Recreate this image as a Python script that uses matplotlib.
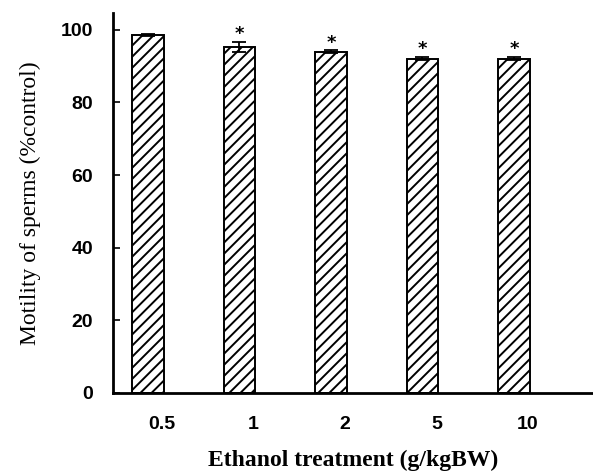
import numpy as np
import matplotlib.pyplot as plt
from matplotlib.transforms import ScaledTranslation

doses = ['0.5', '1', '2', '5', '10']
motility = [98.6, 95.3, 94.0, 92.1, 92.1]
errors = [0.3, 1.4, 0.4, 0.4, 0.4]
significant = [False, True, True, True, True]

plt.rcParams['hatch.linewidth'] = 1.4

fig = plt.figure(figsize=(5.93, 4.75), dpi=100)
ax = fig.add_axes([0.19, 0.173, 0.81, 0.80])

x = np.arange(len(doses))
ax.bar(x, motility, width=0.345, color='white', edgecolor='black',
       linewidth=1.4, hatch='///', yerr=errors,
       error_kw=dict(ecolor='black', elinewidth=1.3, capsize=5, capthick=1.3))

for xi, m, e, s in zip(x, motility, errors, significant):
    if s:
        ax.annotate('*', (xi, m + e), xytext=(0, -1), textcoords='offset points',
                    ha='center', va='bottom', fontsize=13, fontweight='bold')

ax.set_xlim(-0.383, 4.863)
ax.set_ylim(0, 104.7)
ax.set_xticks(x)
ax.set_xticklabels(doses, fontsize=14, fontweight='bold', family='Liberation Sans')
ax.set_yticks([0, 20, 40, 60, 80, 100])
ax.set_yticklabels(['0', '20', '40', '60', '80', '100'], fontsize=14,
                   fontweight='bold', family='Liberation Sans')
ax.tick_params(axis='x', length=0, pad=17)
ax.tick_params(axis='y', direction='in', length=5, width=1.2, pad=14)

# the printed dose labels sit a little right of the bars
shift = ScaledTranslation(0.14, 0, fig.dpi_scale_trans)
for lab in ax.get_xticklabels():
    lab.set_transform(lab.get_transform() + shift)

for side in ['top', 'right']:
    ax.spines[side].set_visible(False)
for side in ['left', 'bottom']:
    ax.spines[side].set_linewidth(2)

ax.set_xlabel('Ethanol treatment (g/kgBW)', fontsize=17, fontweight='bold',
              family='Liberation Serif', labelpad=12)
ax.set_ylabel('Motility of sperms (%control)', fontsize=17,
              family='Liberation Serif', labelpad=14)

plt.savefig('out.png', dpi=100)
